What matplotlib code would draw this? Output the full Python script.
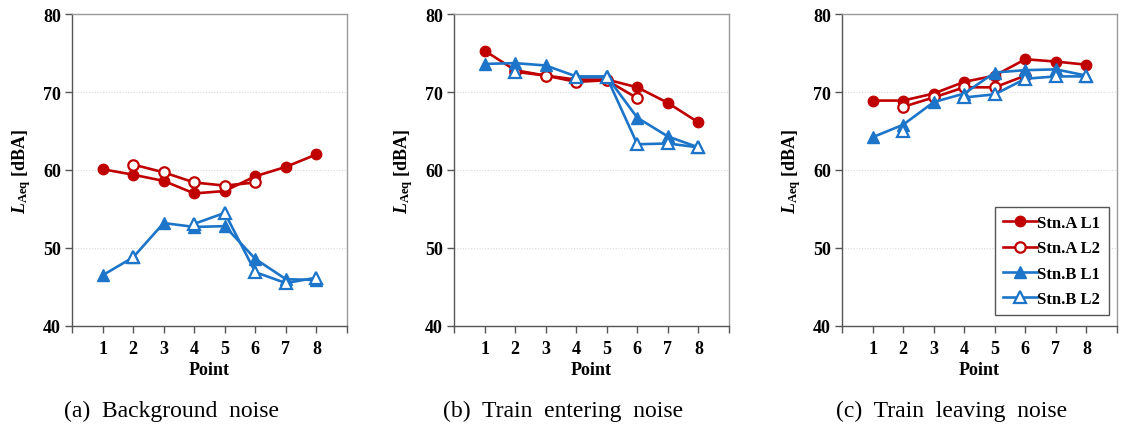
import numpy as np
import matplotlib.pyplot as plt

plt.rcParams.update({
    'font.family': 'Liberation Serif',
    'font.weight': 'bold',
    'mathtext.fontset': 'custom',
    'mathtext.rm': 'Liberation Serif:bold',
    'mathtext.it': 'Liberation Serif:italic:bold',
    'mathtext.bf': 'Liberation Serif:bold',
})

points = [1, 2, 3, 4, 5, 6, 7, 8]
nan = np.nan

# (a) background noise
bg_a1 = [60.1, 59.4, 58.6, 57.0, 57.3, 59.2, 60.4, 62.0]
bg_a2 = [nan, 60.7, 59.7, 58.4, 58.0, 58.4, nan, nan]
bg_b1 = [46.5, 48.8, 53.2, 52.7, 52.8, 48.6, 46.0, 45.9]
bg_b2 = [nan, 48.8, nan, 53.1, 54.5, 46.9, 45.5, 46.2]

# (b) train entering noise
en_a1 = [75.3, 72.8, 72.1, 71.6, 71.6, 70.6, 68.6, 66.1]
en_a2 = [nan, 72.6, 72.1, 71.3, 71.5, 69.2, nan, nan]
en_b1 = [73.6, 73.7, 73.4, 72.0, 72.0, 66.7, 64.3, 62.9]
en_b2 = [nan, 72.6, nan, 71.9, 71.9, 63.3, 63.4, 62.9]

# (c) train leaving noise
lv_a1 = [68.9, 68.9, 69.8, 71.3, 72.1, 74.2, 73.9, 73.5]
lv_a2 = [nan, 68.1, 69.3, 70.6, 70.6, 72.1, nan, nan]
lv_b1 = [64.2, 65.8, 68.7, 69.8, 72.5, 72.8, 72.9, 72.1]
lv_b2 = [nan, 65.0, nan, 69.3, 69.7, 71.7, 72.0, 72.0]

panels = [
    ('(a)  Background  noise', bg_a1, bg_a2, bg_b1, bg_b2),
    ('(b)  Train  entering  noise', en_a1, en_a2, en_b1, en_b2),
    ('(c)  Train  leaving  noise', lv_a1, lv_a2, lv_b1, lv_b2),
]
series_names = ['Stn.A L1', 'Stn.A L2', 'Stn.B L1', 'Stn.B L2']

RED = '#C00000'
BLUE = '#1C75C8'

W, H = 1125, 431
fig = plt.figure(figsize=(W / 100, H / 100), dpi=100)

ax_left = [72, 454, 842]
cap_x = [172, 563, 952]
ax_w, ax_top, ax_bot = 275, 15, 327

for i, (cap, a1, a2, b1, b2) in enumerate(panels):
    ax = fig.add_axes([ax_left[i] / W, 1 - ax_bot / H, ax_w / W, (ax_bot - ax_top) / H])
    lw = 1.9
    ax.plot(points, a1, color=RED, lw=lw, marker='o', ms=7.5, mfc=RED, mec=RED, label=series_names[0])
    ax.plot(points, a2, color=RED, lw=lw, marker='o', ms=7.5, mfc='white', mec=RED, mew=1.6, label=series_names[1])
    ax.plot(points, b1, color=BLUE, lw=lw, marker='^', ms=8, mfc=BLUE, mec=BLUE, label=series_names[2])
    ax.plot(points, b2, color=BLUE, lw=lw, marker='^', ms=8, mfc='white', mec=BLUE, mew=1.6, label=series_names[3])

    ax.set_xlim(0, 9)
    ax.set_ylim(40, 80)
    ax.set_xticks(range(0, 10))
    ax.set_xticklabels([''] + [str(p) for p in points] + [''])
    ax.set_yticks([40, 50, 60, 70, 80])
    ax.tick_params(axis='both', direction='out', length=5, width=1, color='#555555', labelsize=13)
    ax.tick_params(axis='y', pad=3)
    ax.tick_params(axis='x', pad=5)
    for y in [50, 60, 70]:
        ax.axhline(y, color='#d9d9d9', lw=0.8, ls=(0, (1, 1.5)), zorder=0)
    ax.spines['left'].set_color('#555555')
    ax.spines['bottom'].set_color('#555555')
    ax.spines['top'].set_color('#999999')
    ax.spines['right'].set_color('#999999')
    for s in ax.spines.values():
        s.set_linewidth(1)

    ax.set_xlabel('Point', fontsize=13, fontweight='bold', labelpad=3)
    ax.set_ylabel(r'$L_{\mathrm{Aeq}}$ [dBA]', fontsize=13, fontweight='bold', labelpad=7)

    fig.text(cap_x[i] / W, 1 - 411 / H, cap, ha='center', va='center',
             fontsize=17, fontweight='normal')

    if i == 2:
        leg = ax.legend(loc='lower right', bbox_to_anchor=(0.97, 0.035), fontsize=12,
                        handlelength=2.0, handletextpad=0.05, borderpad=0.5,
                        borderaxespad=0, labelspacing=0.55, fancybox=False, framealpha=1)
        leg.get_frame().set_edgecolor('#555555')
        leg.get_frame().set_linewidth(1)

fig.savefig('out.png', dpi=100)
